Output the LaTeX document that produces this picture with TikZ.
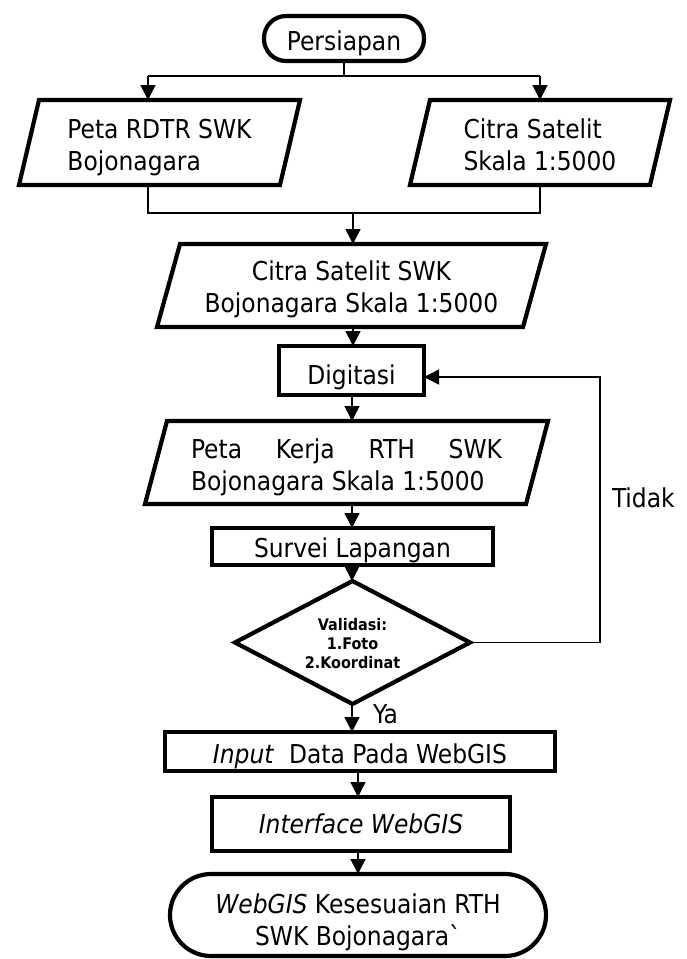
\documentclass[tikz,border=0pt]{standalone}
\usepackage{fontspec}
\setmainfont{DejaVu Sans Condensed}[Ligatures=TeXOff]
\usetikzlibrary{arrows.meta,calc}
\newcommand{\mlt}[3]{\raisebox{-#1}[\height][\depth]{\begin{tabular}{@{}#2@{}}#3\end{tabular}}}
\begin{document}
\begin{tikzpicture}[x=1pt,y=-1pt,
  every node/.style={font=\fontsize{26}{32}\selectfont, inner sep=0pt, outer sep=0pt},
  box/.style={draw, line width=4.2pt, rectangle},
  stadium/.style={box, rounded corners=#1},
  holder/.style={rectangle},
  pline/.style={line width=4.2pt, line join=miter},
  conn/.style={line width=1.5pt},
  arr/.style={conn, -{Triangle[length=15pt,width=15pt]}},
  one/.style={text depth=0pt, text height=#1}
]
\useasboundingbox (0,0) rectangle (686,959);

% start
\node[stadium=22pt, minimum width=160pt, minimum height=45pt, one=23pt] (start) at (344,38.5) {Persiapan};

% parallelograms
\node[holder, minimum width=281pt, minimum height=85pt] (p1) at (159.5,142.5) {\mlt{5.1pt}{l}{Peta RDTR SWK\\Bojonagara}};
\draw[pline] ($(p1.north west)+(20,0)$) -- (p1.north east) -- ($(p1.south east)+(-20,0)$) -- (p1.south west) -- cycle;

\node[holder, minimum width=260pt, minimum height=85pt] (p2) at (540,142.5) {\mlt{5.1pt}{l}{Citra Satelit\\Skala 1:5000}};
\draw[pline] ($(p2.north west)+(20,0)$) -- (p2.north east) -- ($(p2.south east)+(-20,0)$) -- (p2.south west) -- cycle;

\node[holder, minimum width=389pt, minimum height=83pt] (p3) at (351.5,285.5) {\mlt{4.1pt}{c}{Citra Satelit SWK\\Bojonagara Skala 1:5000}};
\draw[pline] ($(p3.north west)+(23,0)$) -- (p3.north east) -- ($(p3.south east)+(-23,0)$) -- (p3.south west) -- cycle;

\node[box, minimum width=145pt, minimum height=49pt, one=27pt] (dig) at (351.5,370.5) {Digitasi};

\node[holder, minimum width=403pt, minimum height=83pt] (p4) at (346.5,462.5) {\mlt{5.1pt}{l}{\hbox to 311pt{Peta\hfill Kerja\hfill RTH\hfill SWK}\\Bojonagara Skala 1:5000}};
\draw[pline] ($(p4.north west)+(22,0)$) -- (p4.north east) -- ($(p4.south east)+(-22,0)$) -- (p4.south west) -- cycle;

\node[box, minimum width=281pt, minimum height=37pt, one=21pt] (sur) at (352.5,546.5) {Survei Lapangan};

\node[holder, minimum width=235pt, minimum height=123pt, font=\fontsize{16}{19}\selectfont\bfseries] (dia) at (352.5,642.5) {\mlt{2.7pt}{c}{Validasi:\\1.Foto\\2.Koordinat}};
\draw[pline] (dia.north) -- (dia.east) -- (dia.south) -- (dia.west) -- cycle;

\node[box, minimum width=390pt, minimum height=39pt, one=23pt] (inp) at (360,751.5) {\textit{Input}~ Data Pada WebGIS};

\node[box, minimum width=298pt, minimum height=54pt, one=18pt] (itf) at (361,824) {\textit{Interface WebGIS}};

\node[stadium=41pt, minimum width=376pt, minimum height=82pt] (fin) at (358,915) {\mlt{7.6pt}{c}{\textit{WebGIS} Kesesuaian RTH\\SWK Bojonagara`}};

\node[anchor=base west] (tidak) at (612,507) {Tidak};
\node[anchor=base west] (ya) at (373,723) {Ya};

% connectors
\coordinate (sl) at (148,76);
\coordinate (sr) at (540,76);
\draw[conn] (start.south) -- (start.south |- sl);
\draw[conn] (sl) -- (sr);
\draw[arr] (sl) -- (sl |- p1.north);
\draw[arr] (sr) -- (sr |- p2.north);

\coordinate (ml) at (148,213);
\coordinate (mr) at (540,213);
\coordinate (mc) at (353,213);
\draw[conn] (ml |- p1.south) -- (ml) -- (mr) -- (mr |- p2.south);
\draw[arr] (mc) -- (mc |- p3.north);

\draw[arr] (mc |- p3.south) -- (mc |- dig.north);
\coordinate (c2) at (352,0);
\draw[arr] (c2 |- dig.south) -- (c2 |- p4.north);
\draw[arr] (c2 |- p4.south) -- (c2 |- sur.north);
\draw[arr] (c2 |- sur.south) -- (c2 |- dia.north);
\draw[arr] (c2 |- dia.south) -- (c2 |- inp.north);
\coordinate (c3) at (358,0);
\draw[arr] (c3 |- inp.south) -- (c3 |- itf.north);
\draw[arr] (c3 |- itf.south) -- (c3 |- fin.north);

\coordinate (fb) at (600,377);
\draw[arr] (dia.east) -| (fb) -- (fb -| dig.east);
\end{tikzpicture}
\end{document}
